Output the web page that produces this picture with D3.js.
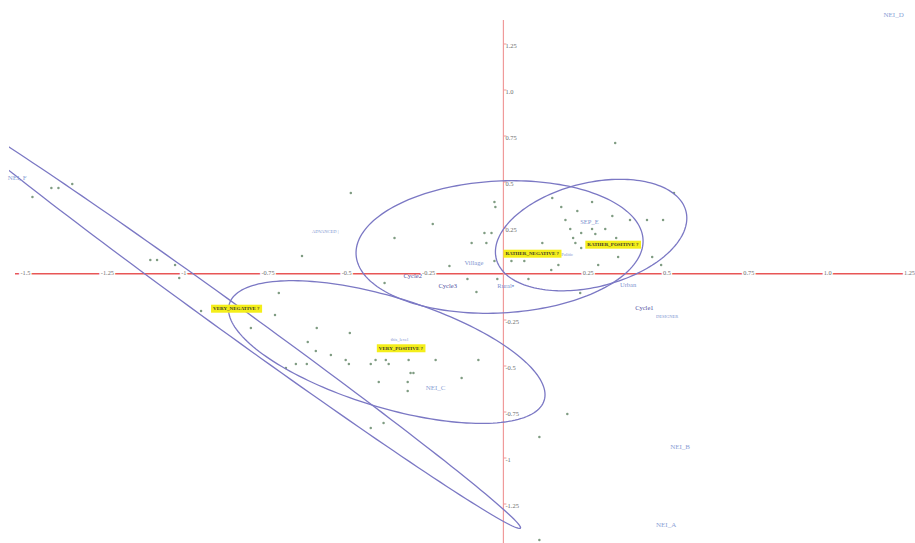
<!DOCTYPE html>
<html>
<head>
<meta charset="utf-8">
<script src="https://cdn.jsdelivr.net/npm/d3@7/dist/d3.min.js"></script>
<style>
  html, body { margin: 0; padding: 0; background: #fff; }
  svg { display: block; }
</style>
</head>
<body>
<svg id="chart" width="915" height="543"></svg>
<script>
// Axis ticks
const xTicks = [-1.5, -1.25, -1, -0.75, -0.5, -0.25, 0.25, 0.5, 0.75, 1, 1.25];
const xTickLabels = ["-1.5", "-1.25", "-1", "-0.75", "-0.5", "-0.25", "0.25", "0.5", "0.75", "1.0", "1.25"];
const yTicks = [1.25, 1, 0.75, 0.5, 0.25, -0.25, -0.5, -0.75, -1, -1.25];
const yTickLabels = ["1.25", "1.0", "0.75", "0.5", "0.25", "-0.25", "-0.5", "-0.75", "-1", "-1.25"];

// Individuals (row coordinates on dimensions 1 and 2)
const pointX = [-1.466, -1.407, -1.385, -1.342, -1.099, -1.078, -1.022, -1.009, -0.627, -0.475,
  -0.941, -0.699, -0.711, -0.786, -0.581, -0.478, -0.609, -0.584, -0.537, -0.491,
  -0.646, -0.612, -0.481, -0.413, -0.677, -0.398, -0.366, -0.357, -0.295, -0.211,
  -0.078, -0.289, -0.280, -0.388, -0.298, -0.298, -0.130, -0.413, -0.373, 0.199,
  0.112, 0.112, -0.220, -0.339, -0.028, -0.025, -0.059, -0.037, -0.099, -0.053,
  -0.028, -0.168, -0.370, -0.112, -0.019, -0.084, 0.348, 0.531, 0.152, 0.276,
  0.180, 0.230, 0.339, 0.394, 0.447, 0.497, 0.193, 0.208, 0.276, 0.317,
  0.242, 0.286, 0.121, 0.217, 0.224, 0.242, 0.351, 0.357, 0.463, 0.025,
  0.065, 0.171, 0.149, 0.295, 0.491, 0.078, 0.239];
const pointY = [0.416, 0.465, 0.465, 0.486, 0.073, 0.073, 0.046, -0.024, 0.095, 0.438,
  -0.204, -0.106, -0.226, -0.296, -0.296, -0.323, -0.372, -0.421, -0.443, -0.470,
  -0.492, -0.492, -0.492, -0.492, -0.514, -0.470, -0.470, -0.492, -0.470, -0.470,
  -0.470, -0.541, -0.541, -0.590, -0.590, -0.639, -0.568, -0.840, -0.813, -0.764,
  -0.889, -1.448, 0.269, 0.193, 0.389, 0.361, 0.220, 0.220, 0.166, 0.166,
  0.068, 0.041, -0.052, -0.030, -0.030, -0.101, 0.709, 0.438, 0.410, 0.389,
  0.361, 0.340, 0.313, 0.291, 0.291, 0.291, 0.291, 0.242, 0.242, 0.242,
  0.220, 0.215, 0.166, 0.193, 0.166, 0.139, 0.193, 0.090, 0.090, 0.068,
  0.068, 0.046, 0.019, 0.046, 0.046, -0.030, -0.106];

// Supplementary category labels
const labelNames = ["NEI_D", "NEI_F", "ADVANCED  |", "Village", "Cycle2", "Cycle3", "Rural\u25aa", "Urban",
  "SEP_E", "Politic", "Cycle1", "DESIGNER", "NEI_B", "NEI_A", "NEI_C", "this_level"];
const labelX = [1.183, -1.543, -0.596, -0.121, -0.311, -0.202, -0.019, 0.363,
  0.239, 0.180, 0.410, 0.475, 0.519, 0.475, -0.242, -0.351];
const labelY = [1.405, 0.519, 0.231, 0.057, -0.014, -0.068, -0.068, -0.063,
  0.280, 0.106, -0.188, -0.231, -0.943, -1.367, -0.622, -0.356];
const labelKind = ["nei", "nei", "small", "cat", "cycle", "cycle", "cat", "cat",
  "cat", "small", "cycle", "small", "nei", "nei", "nei", "small"];

// Active modalities, highlighted
const modNames = ["RATHER_NEGATIVE  ?", "RATHER_POSITIVE  ?", "VERY_NEGATIVE  ?", "VERY_POSITIVE  ?"];
const modX = [0.000, 0.255, -0.910, -0.394];
const modY = [0.109, 0.158, -0.190, -0.405];

// Confidence ellipses: centre and two conjugate semi-axes (data units)
const ellCx = [-0.012, 0.273, -0.363, -0.854];
const ellCy = [0.144, 0.209, -0.427, -0.239];
const ellAx = [0.4466, 0.2953, 0.4900, 0.907];
const ellAy = [0.0408, 0.1289, -0.2622, -1.145];
const ellBx = [0.0107, 0.0391, -0.0499, -0.0264];
const ellBy = [-0.358, -0.2742, -0.2859, -0.0639];

const svg = d3.select("#chart");
const x = d3.scaleLinear().domain([-1.5, 1.25]).range([21.5, 905]);
const y = d3.scaleLinear().domain([-1.25, 1.25]).range([503.5, 43.5]);

const FONT = "'Liberation Serif', 'DejaVu Serif', serif";

// Plot area clip (the long ellipse runs past the left edge)
svg.append("defs").append("clipPath").attr("id", "plot-clip")
  .append("rect").attr("x", 9).attr("y", 0).attr("width", 906).attr("height", 543);

// Axes lines through the origin
svg.append("rect")
  .attr("x", 15).attr("width", 897)
  .attr("y", Math.round(y(0)) - 1).attr("height", 1.5)
  .attr("fill", "#e85656");
svg.append("line")
  .attr("x1", x(0)).attr("x2", x(0))
  .attr("y1", 20).attr("y2", 543)
  .attr("stroke", "#f09a9a").attr("stroke-width", 1.2);

// Horizontal axis labels, sitting on the line
const gx = svg.append("g")
  .attr("transform", `translate(0,${y(0)})`)
  .call(d3.axisBottom(x).tickValues(xTicks).tickFormat((d, i) => xTickLabels[i]).tickSize(0));
gx.select(".domain").remove();
gx.selectAll("text")
  .attr("text-anchor", "start")
  .attr("x", -1.5).attr("y", 1).attr("dy", 0)
  .attr("font-family", FONT).attr("font-size", 6.3)
  .attr("fill", "#6e6e6e")
  .attr("stroke", "#fff").attr("stroke-width", 3).attr("paint-order", "stroke");

// Vertical axis labels, to the right of the line
const gy = svg.append("g")
  .attr("transform", `translate(${x(0)},0)`)
  .call(d3.axisRight(y).tickValues(yTicks).tickFormat((d, i) => yTickLabels[i]).tickSize(3));
gy.select(".domain").remove();
gy.selectAll(".tick line").attr("stroke", "#f09a9a");
gy.selectAll("text")
  .attr("x", 2).attr("dy", "0.62em")
  .attr("font-family", FONT).attr("font-size", 6.5)
  .attr("fill", "#6e6e6e");

// Points
svg.append("g").selectAll("circle")
  .data(d3.range(pointX.length))
  .join("circle")
  .attr("cx", i => x(pointX[i]))
  .attr("cy", i => y(pointY[i]))
  .attr("r", 1.25)
  .attr("fill", "#7f9c82");

// Ellipses
const line = d3.line().curve(d3.curveLinearClosed);
const steps = d3.range(0, 360, 2).map(a => a * Math.PI / 180);
svg.append("g").attr("clip-path", "url(#plot-clip)").selectAll("path")
  .data(d3.range(ellCx.length))
  .join("path")
  .attr("d", i => line(steps.map(t => [
    x(ellCx[i] + ellAx[i] * Math.cos(t) + ellBx[i] * Math.sin(t)),
    y(ellCy[i] + ellAy[i] * Math.cos(t) + ellBy[i] * Math.sin(t))
  ])))
  .attr("fill", "none")
  .attr("stroke", "#7b78c4")
  .attr("stroke-width", 1.3);

// Category labels
const styleOf = {
  nei: { size: 7, color: "#8c9fd6" },
  cat: { size: 6.5, color: "#7e93d0" },
  cycle: { size: 6.5, color: "#4f4fa0" },
  small: { size: 4.5, color: "#7e93d0" }
};
svg.append("g").selectAll("text")
  .data(d3.range(labelNames.length))
  .join("text")
  .attr("x", i => x(labelX[i]))
  .attr("y", i => y(labelY[i]))
  .attr("dy", "0.35em")
  .attr("font-family", FONT)
  .attr("font-size", i => styleOf[labelKind[i]].size)
  .attr("fill", i => styleOf[labelKind[i]].color)
  .text(i => labelNames[i]);

// Highlighted modalities
const mods = svg.append("g").selectAll("g")
  .data(d3.range(modNames.length))
  .join("g")
  .attr("transform", i => `translate(${x(modX[i])},${y(modY[i])})`);
mods.append("text")
  .attr("x", 2).attr("dy", "0.35em")
  .attr("font-family", FONT)
  .attr("font-size", 5)
  .attr("font-weight", "bold")
  .attr("fill", "#3a3a2a")
  .text(i => modNames[i])
  .each(function () {
    const b = this.getBBox();
    d3.select(this.parentNode).insert("rect", "text")
      .attr("x", b.x - 2).attr("y", b.y - 1.5)
      .attr("width", b.width + 4).attr("height", b.height + 3)
      .attr("fill", "#f4ee1a");
  });
</script>
</body>
</html>
